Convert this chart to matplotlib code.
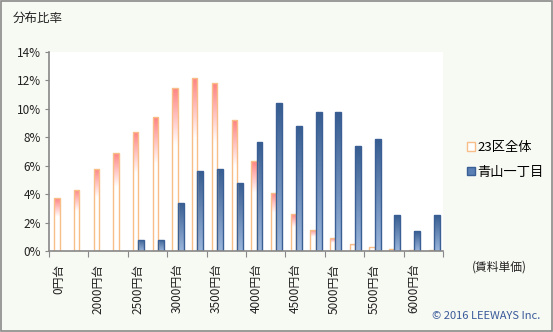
import numpy as np
import matplotlib
matplotlib.use('Agg')
from matplotlib import pyplot as plt, patches
from matplotlib.colors import LinearSegmentedColormap

plt.rcParams['font.family'] = ['Noto Sans CJK JP', 'DejaVu Sans']

# rent-per-tsubo bands, every other one is labelled on the axis
categories = ['0円台', '1750円台', '2000円台', '2250円台', '2500円台', '2750円台',
              '3000円台', '3250円台', '3500円台', '3750円台', '4000円台', '4250円台',
              '4500円台', '4750円台', '5000円台', '5250円台', '5500円台', '5750円台',
              '6000円台', '6250円台']
ward_all = [3.7, 4.3, 5.8, 6.9, 8.4, 9.4, 11.5, 12.2, 11.8, 9.2,
            6.3, 4.1, 2.6, 1.5, 0.9, 0.5, 0.3, 0.15, 0.05, 0.05]
aoyama = [0, 0, 0, 0, 0.8, 0.8, 3.4, 5.6, 5.8, 4.8,
          7.7, 10.4, 8.8, 9.8, 9.8, 7.4, 7.9, 2.5, 1.4, 2.5]
series_names = ['23区全体', '青山一丁目']

bg = '#f7f9f3'
orange_edge = '#f9bd88'
blue_edge = '#3a5f95'
orange_cmap = LinearSegmentedColormap.from_list(
    'orange', [(0, 'white'), (0.65, 'white'), (1, '#ff8282')])
blue_cmap = LinearSegmentedColormap.from_list('blue', ['#9bb6dc', '#365c90'])


def fill_gradient(ax, bars, cmap):
    grad = np.linspace(0, 1, 256).reshape(-1, 1)
    for bar in bars:
        x, y = bar.get_x(), bar.get_y()
        w, h = bar.get_width(), bar.get_height()
        if h <= 0:
            bar.set_linewidth(0)
            bar.set_visible(False)
            continue
        im = ax.imshow(grad, cmap=cmap, origin='lower', aspect='auto',
                       extent=(x, x + w, y, y + h), zorder=bar.get_zorder() - 0.1,
                       interpolation='bicubic')
        im.set_clip_path(bar)


fig = plt.figure(figsize=(5.53, 3.32), dpi=100, facecolor=bg)
ax = fig.add_axes([49 / 553, 1 - 251 / 332, 394 / 553, 199 / 332])
ax.set_facecolor('white')

x = np.arange(len(categories))
bars_all = ax.bar(x - 0.1, ward_all, width=0.27, facecolor='none',
                  edgecolor=orange_edge, linewidth=1.0, zorder=3)
bars_aoy = ax.bar(x + 0.185, aoyama, width=0.3, facecolor='none',
                  edgecolor=blue_edge, linewidth=1.0, zorder=3)
fill_gradient(ax, bars_all, orange_cmap)
fill_gradient(ax, bars_aoy, blue_cmap)

ax.set_xlim(-0.5, len(categories) - 0.5)
ax.set_ylim(0, 14)

# y axis
ax.set_yticks(np.arange(0, 15, 2))
ax.set_yticklabels([f'{v}%' for v in range(0, 15, 2)])
ax.tick_params(axis='y', direction='out', length=3, color='#888888',
               labelsize=8.5, pad=3, labelcolor='#222222')

# x axis: ticks between label pairs, labels on every other band
ax.set_xticks(np.arange(-0.5, len(categories), 2))
ax.set_xticklabels([])
ax.set_xticks(x[::2], minor=True)
ax.set_xticklabels(categories[::2], minor=True, rotation=90, va='top', ha='center')
ax.tick_params(axis='x', which='major', direction='out', length=4, color='#888888')
ax.tick_params(axis='x', which='minor', length=0, pad=9, labelsize=8.5,
               labelcolor='#222222')

for side in ['top', 'right']:
    ax.spines[side].set_visible(False)
for side in ['left', 'bottom']:
    ax.spines[side].set_color('#888888')
    ax.spines[side].set_linewidth(1.2)
    ax.spines[side].set_zorder(4)

# legend
handles = [
    patches.Patch(facecolor='white', edgecolor=orange_edge, label=series_names[0]),
    patches.Patch(facecolor='#5a7fb5', edgecolor=blue_edge, label=series_names[1]),
]
fig.legend(handles=handles, loc='center left', bbox_to_anchor=(455 / 553, 1 - 160 / 332),
           frameon=False, fontsize=9.5, handlelength=0.6, handleheight=0.6,
           handletextpad=0.2, labelspacing=0.9)

fig.text(13 / 553, 1 - 18 / 332, '分布比率', fontsize=9, va='center', ha='left',
         color='#222222')
fig.text(499 / 553, 1 - 267 / 332, '(賃料単価)', fontsize=8.5, va='center', ha='center',
         color='#222222')
fig.text(540 / 553, 1 - 316 / 332, '© 2016 LEEWAYS Inc.', fontsize=8, va='center',
         ha='right', color='#3a5a9a')

# outer frame
fig.add_artist(patches.Rectangle((0.001, 0.002), 0.997, 0.995, transform=fig.transFigure,
                                 fill=False, edgecolor='#8a8a8a', linewidth=1.2))

fig.savefig('out.png', dpi=100, facecolor=bg)
